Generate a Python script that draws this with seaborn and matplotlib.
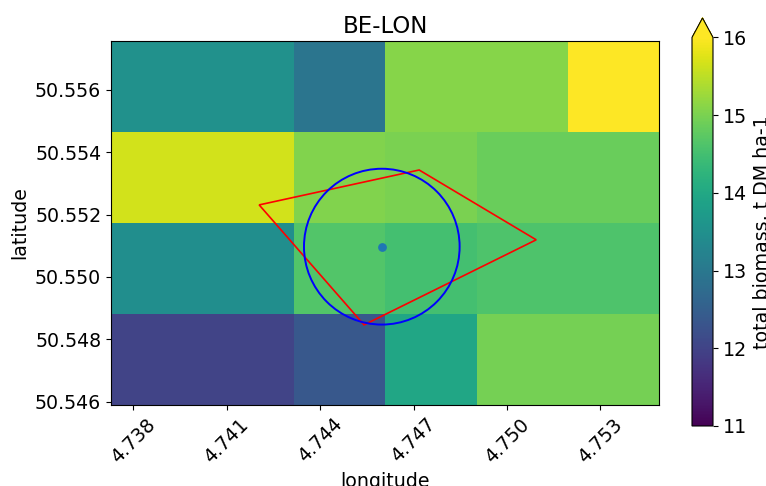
import numpy as np
import matplotlib
matplotlib.use("Agg")
import matplotlib.pyplot as plt
from matplotlib.patches import Circle, Polygon
from matplotlib.ticker import FormatStrFormatter
import seaborn as sns

# Grid cell centres
lon = [4.73875, 4.74169, 4.74462, 4.74756, 4.75049, 4.75342]
lat = [50.54735, 50.55027, 50.55319, 50.55611]

# Total biomass per cell (t DM ha-1), rows from south to north
biomass = [
    [12.00, 12.00, 12.35, 13.95, 14.95, 14.95],
    [13.45, 13.45, 14.65, 14.50, 14.60, 14.60],
    [15.65, 15.65, 15.05, 15.00, 14.85, 14.85],
    [13.50, 13.50, 12.95, 15.10, 15.10, 16.10],
]

# Station location, footprint radius and field boundary
site_lon, site_lat = 4.74598, 50.55097
radius = 0.0025
field_lon = [4.74204, 4.74718, 4.75094, 4.74541]
field_lat = [50.55231, 50.55343, 50.55119, 50.54846]

xticks = [4.738, 4.741, 4.744, 4.747, 4.750, 4.753]
yticks = [50.546, 50.548, 50.550, 50.552, 50.554, 50.556]
cbar_ticks = [11, 12, 13, 14, 15, 16]

plt.rcParams["font.family"] = ["DejaVu Sans"]
plt.rcParams["font.size"] = 13.7

fig = plt.figure(figsize=(7.66, 4.86), dpi=100)
ax = fig.add_axes([0.1449, 0.1667, 0.7154, 0.7490])
cax = fig.add_axes([0.9034, 0.1235, 0.0274, 0.8395])

cmap = sns.color_palette("viridis", as_cmap=True)
mesh = ax.pcolormesh(lon, lat, np.array(biomass), cmap=cmap, vmin=11, vmax=16,
                     shading="nearest")

ax.add_patch(Polygon(list(zip(field_lon, field_lat)), closed=True, fill=False,
                     edgecolor="red", linewidth=1.2, zorder=3))
ax.add_patch(Circle((site_lon, site_lat), radius, fill=False,
                    edgecolor="blue", linewidth=1.4, zorder=4))
sns.scatterplot(x=[site_lon], y=[site_lat], ax=ax, color="#1f77b4", s=40,
                linewidth=0, zorder=5)

ax.set_xticks(xticks)
ax.set_yticks(yticks)
ax.xaxis.set_major_formatter(FormatStrFormatter("%.3f"))
ax.yaxis.set_major_formatter(FormatStrFormatter("%.3f"))
ax.tick_params(axis="x", labelrotation=45)
ax.set_xlabel("longitude")
ax.set_ylabel("latitude")
ax.set_title("BE-LON")

cb = fig.colorbar(mesh, cax=cax, extend="max", ticks=cbar_ticks)
cb.set_label("total biomass, t DM ha-1")

fig.savefig("out.png", dpi=100)
